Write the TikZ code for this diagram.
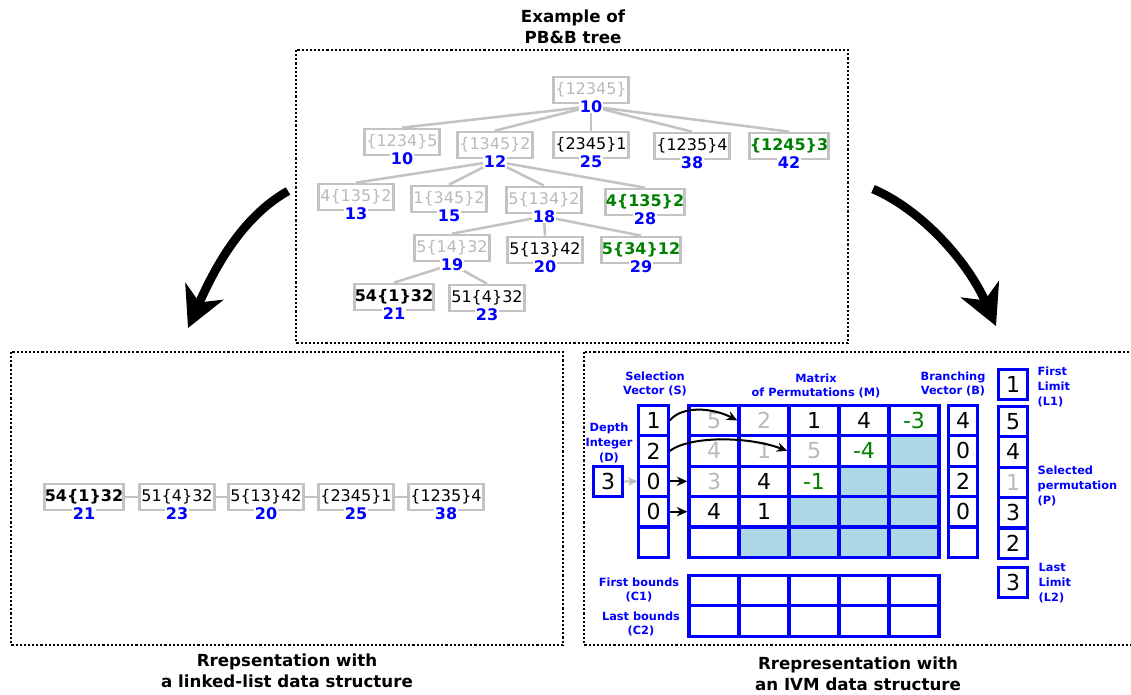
\documentclass[tikz,border=0pt]{standalone}
\usepackage{fontspec}
\setmainfont{DejaVu Sans}
\usetikzlibrary{arrows.meta,positioning,backgrounds}

\definecolor{boxgray}{RGB}{195,195,195}
\definecolor{visitgray}{RGB}{185,185,185}
\definecolor{prunegreen}{RGB}{0,128,0}
\definecolor{ivmblue}{RGB}{0,0,255}
\definecolor{donecell}{RGB}{173,216,230}

\tikzset{
    frame/.style = {draw, line width=1.9pt, dash pattern=on 1.6pt off 1.5pt},
    caption/.style = {font=\fontsize{12.5}{15.5}\selectfont\bfseries, align=center},
    pbbbox/.style = {draw=boxgray, line width=2pt, minimum width=56.5pt, minimum height=19.5pt,
        inner xsep=0pt, inner ysep=0pt, font=\fontsize{12}{14}\selectfont},
    visited/.style = {text=visitgray},
    plain/.style = {text=black},
    chosen/.style = {font=\fontsize{12}{14}\selectfont\bfseries},
    pruned/.style = {text=prunegreen, font=\fontsize{12}{14}\selectfont\bfseries},
    lowbound/.style = {fill=white, inner sep=0.4pt, text=ivmblue, font=\fontsize{12}{13}\selectfont\bfseries},
    treeedge/.style = {draw=boxgray, line width=1.9pt},
    bigarrow/.style = {line width=6.5pt, -{Stealth[length=30pt,width=31pt,inset=9pt]}},
    cell/.style = {draw=ivmblue, line width=2.4pt, minimum width=37.5pt, minimum height=22.8pt,
        inner sep=0pt, font=\fontsize{16.5}{18}\selectfont},
    vcell/.style = {cell, minimum width=22pt},
    ivmlabel/.style = {text=ivmblue, font=\fontsize{8.5}{11}\selectfont\bfseries, align=center},
    selarrow/.style = {line width=1.5pt, -{Stealth[length=8pt,width=7pt]}},
}

% a node of the PB&B tree, its lower bound sits on the bottom edge
\newcommand{\pbbnode}[5]{%
    \node[pbbbox,#3] (#1) at (#2) {#4};
    \node[lowbound] (#1-lb) at ([yshift=-1.5pt]#1.south) {#5};
}
\newcommand{\gr}[1]{{\color{visitgray}#1}}
\newcommand{\gn}[1]{{\color{prunegreen}#1}}

\begin{document}
\begin{tikzpicture}[x=0.75pt,y=-0.75pt]
    \useasboundingbox (0,0) rectangle (1131,694);

    % frames and captions
    \draw[frame] (296,50) rectangle (848,343);
    \draw[frame] (11,352) rectangle (563,645);
    \draw[frame] (584,352) rectangle (1140,645);
    \node[caption] (toptitle) at (573,27) {Example of\\PB\&B tree};
    \node[caption] (lltitle) at (287,671) {Rrepsentation with\\a linked-list data structure};
    \node[caption] (ivmtitle) at (858,674) {Rrepresentation with\\an IVM data structure};

    % the tree
    \pbbnode{root}{591,90}{visited}{\{12345\}}{10}
    \pbbnode{t1a}{402,142}{visited}{\{1234\}5}{10}
    \pbbnode{t1b}{495,145}{visited}{\{1345\}2}{12}
    \pbbnode{t1c}{591,145}{plain}{\{2345\}1}{25}
    \pbbnode{t1d}{692,146}{plain}{\{1235\}4}{38}
    \pbbnode{t1e}{789,146}{pruned}{\{1245\}3}{42}
    \pbbnode{t2a}{356,197}{visited}{4\{135\}2}{13}
    \pbbnode{t2b}{449,199}{visited}{1\{345\}2}{15}
    \pbbnode{t2c}{544,200}{visited}{5\{134\}2}{18}
    \pbbnode{t2d}{645,202}{pruned}{4\{135\}2}{28}
    \pbbnode{t3a}{452,248}{visited}{5\{14\}32}{19}
    \pbbnode{t3b}{545,250}{plain}{5\{13\}42}{20}
    \pbbnode{t3c}{641,250}{pruned}{5\{34\}12}{29}
    \pbbnode{t4a}{394,297}{chosen}{54\{1\}32}{21}
    \pbbnode{t4b}{487,298}{plain}{51\{4\}32}{23}
    \begin{scope}[on background layer]
        \foreach \child in {t1a,t1b,t1c,t1d,t1e}
            \draw[treeedge] (root-lb.center) -- (\child.north);
        \foreach \child in {t2a,t2b,t2c,t2d}
            \draw[treeedge] (t1b-lb.center) -- (\child.north);
        \foreach \child in {t3a,t3b,t3c}
            \draw[treeedge] (t2c-lb.center) -- (\child.north);
        \foreach \child in {t4a,t4b}
            \draw[treeedge] (t3a-lb.center) -- (\child.north);
    \end{scope}

    % big arrows
    \coordinate (lstart) at (288,191);
    \coordinate (lend) at (188,328);
    \coordinate (rstart) at (873,189);
    \coordinate (rend) at (996,326);
    \draw[bigarrow] (lstart) .. controls (240,218) and (213,272) .. (lend);
    \draw[bigarrow] (rstart) .. controls (922,210) and (968,262) .. (rend);

    % linked list
    \pbbnode{ll1}{84,497}{chosen}{54\{1\}32}{21}
    \pbbnode{ll2}{177,497}{plain}{51\{4\}32}{23}
    \pbbnode{ll3}{266,497}{plain}{5\{13\}42}{20}
    \pbbnode{ll4}{356,497}{plain}{\{2345\}1}{25}
    \pbbnode{ll5}{446,497}{plain}{\{1235\}4}{38}
    \draw[treeedge] (ll1.east) -- (ll2.west);
    \draw[treeedge] (ll2.east) -- (ll3.west);
    \draw[treeedge] (ll3.east) -- (ll4.west);
    \draw[treeedge] (ll4.east) -- (ll5.west);

    % IVM: matrix of permutations
    \foreach \i/\j/\v in {1/1/\gr{5},1/2/\gr{2},1/3/1,1/4/4,1/5/\gn{-3},
                          2/1/\gr{4},2/2/\gr{1},2/3/\gr{5},2/4/\gn{-4},2/5/{},
                          3/1/\gr{3},3/2/4,3/3/\gn{-1},3/4/{},3/5/{},
                          4/1/4,4/2/1,4/3/{},4/4/{},4/5/{},
                          5/1/{},5/2/{},5/3/{},5/4/{},5/5/{}} {
        \pgfmathtruncatemacro\diag{\i+\j}
        \ifnum\diag>6 \def\cellcol{donecell}\else\def\cellcol{white}\fi
        \node[cell, fill=\cellcol] (m-\i-\j) at ({714+50*(\j-1)},{420.5+30.4*(\i-1)}) {\v};
    }
    % selection vector, branching vector, permutation
    \foreach \v [count=\i] in {1,2,0,0,{}}
        \node[vcell] (s-\i) at (653.5,{420.5+30.4*(\i-1)}) {\v};
    \foreach \v [count=\i] in {4,0,2,0,{}}
        \node[vcell] (b-\i) at (963,{420.5+30.4*(\i-1)}) {\v};
    \foreach \v [count=\i] in {5,4,\gr{1},3,2}
        \node[vcell] (p-\i) at (1013,{421.5+30.4*(\i-1)}) {\v};
    \node[vcell] (lim1) at (1013,384.5) {1};
    \node[vcell] (lim2) at (1013,582.5) {3};
    \node[vcell] (depth) at (608,481.5) {3};
    % bounds
    \foreach \j in {1,...,5} {
        \node[cell] (cf-\j) at ({714+50*(\j-1)},590.5) {};
        \node[cell] (cl-\j) at ({714+50*(\j-1)},621) {};
    }

    % arrows
    \draw[draw=visitgray, line width=1.5pt, -{Stealth[length=7pt,width=6.5pt]}] (depth.east) -- (s-3.west);
    \draw[selarrow] (s-1.east) .. controls +(12,-15) and +(-25,-13) .. (m-1-2.west);
    \draw[selarrow] (s-2.east) .. controls +(20,-15) and +(-40,-15) .. (m-2-3.west);
    \draw[selarrow] (s-3.east) -- (m-3-1.west);
    \draw[selarrow] (s-4.east) -- (m-4-1.west);

    % IVM labels
    \node[ivmlabel] (dlabel) at (609,443) {Depth\\Integer\\(D)};
    \node[ivmlabel] (slabel) at (655,384) {Selection\\Vector (S)};
    \node[ivmlabel] (mlabel) at (816,386) {Matrix\\of Permutations (M)};
    \node[ivmlabel] (blabel) at (953,384) {Branching\\Vector (B)};
    \node[ivmlabel, align=left, anchor=west] (l1label) at (1033,387) {First\\Limit\\(L1)};
    \node[ivmlabel, align=left, anchor=west] (plabel) at (1033,486) {Selected\\permutation\\(P)};
    \node[ivmlabel, align=left, anchor=west] (l2label) at (1034,583) {Last\\Limit\\(L2)};
    \node[ivmlabel] (c1label) at (639,590) {First bounds\\(C1)};
    \node[ivmlabel] (c2label) at (641,624) {Last bounds\\(C2)};
\end{tikzpicture}
\end{document}
